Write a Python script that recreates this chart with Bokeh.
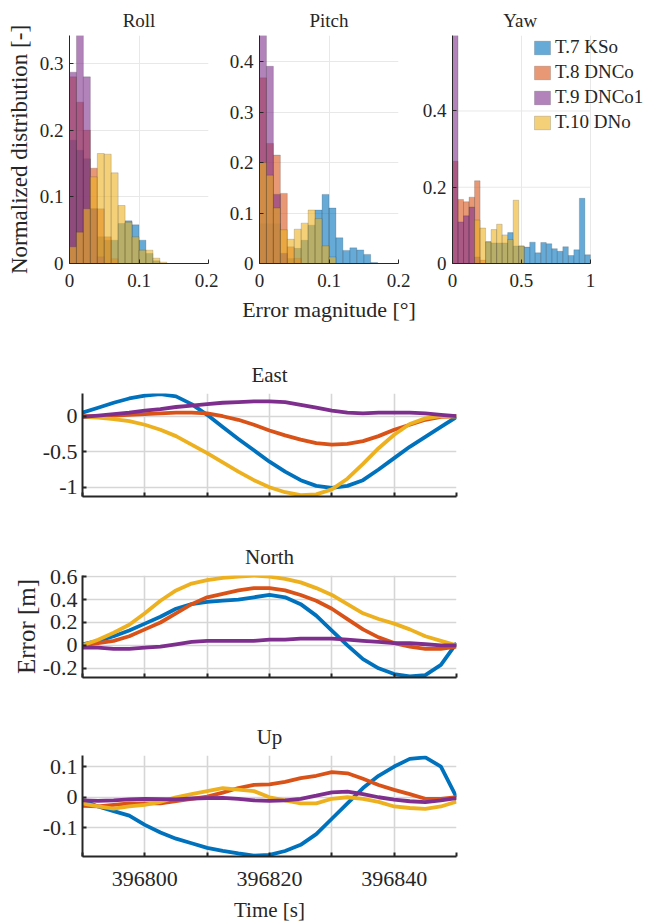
from bokeh.plotting import figure
from bokeh.layouts import column, row
from bokeh.models import FixedTicker, Legend, LegendItem, Range1d, CustomJSTickFormatter
from bokeh.embed import file_html
from bokeh.resources import INLINE

FONT = "Liberation Serif"
TXT = "#262626"

series_names = ["T.7 KSo", "T.8 DNCo", "T.9 DNCo1", "T.10 DNo"]
series_colors = ["#0072BD", "#D95319", "#7E2F8E", "#EDB120"]

# ---------------- histogram data (normalized distribution) ----------------
# Roll, bin width 0.01 deg, first bin starts at 0
roll_bin_width = 0.01
roll_kso = [0.185, 0.17, 0.157, 0.082, 0.04, 0.035, 0.035, 0.06, 0.064, 0.058, 0.035, 0.015, 0.004]
roll_dnco = [0.28, 0.242, 0.2, 0.143, 0.082, 0.04, 0.007]
roll_dnco1 = [0.287, 0.342, 0.28, 0.082, 0.01]
roll_dno = [0.025, 0.047, 0.082, 0.13, 0.165, 0.164, 0.136, 0.087, 0.062, 0.04, 0.02, 0.02, 0.008, 0.002]
roll_start = [0.0, 0.0, 0.0, 0.0]

# Pitch, bin width 0.01 deg
pitch_bin_width = 0.01
pitch_kso = [0.079, 0.079, 0.079, 0.02, 0.01, 0.03, 0.046, 0.076, 0.106, 0.137, 0.11, 0.051, 0.026, 0.031, 0.027, 0.018, 0.002]
pitch_dnco = [0.368, 0.238, 0.215, 0.139, 0.033, 0.01]
pitch_dnco1 = [0.452, 0.391, 0.137, 0.02]
pitch_dno = [0.2, 0.175, 0.11, 0.067, 0.048, 0.068, 0.08, 0.106, 0.089, 0.035, 0.013]
pitch_start = [0.0, 0.0, 0.0, 0.0]

# Yaw, bin width 0.04 deg
yaw_bin_width = 0.04
yaw_kso = [0.057, 0.054, 0.054, 0.054, 0.081, 0.046, 0.046, 0.043, 0.056, 0.028, 0.055, 0.052, 0.039, 0.032, 0.044, 0.021, 0.036, 0.171, 0.023]
yaw_dnco = [0.268, 0.168, 0.162, 0.174, 0.217, 0.009]
yaw_dnco1 = [0.598, 0.109, 0.125, 0.148, 0.017]
yaw_dno = [0.114, 0.093, 0.057, 0.089, 0.103, 0.075, 0.063, 0.166, 0.046]
yaw_start = [0.24, 0.0, 0.0, 0.16]

roll_ticks_x = [0, 0.1, 0.2]
roll_ticks_y = [0, 0.1, 0.2, 0.3]
pitch_ticks_x = [0, 0.1, 0.2]
pitch_ticks_y = [0, 0.1, 0.2, 0.3, 0.4]
yaw_ticks_x = [0, 0.5, 1]
yaw_ticks_y = [0, 0.2, 0.4]

# ---------------- position error data [m] ----------------
time_s = [396790, 396792.5, 396795, 396797.5, 396800, 396802.5, 396805, 396807.5, 396810,
          396812.5, 396815, 396817.5, 396820, 396822.5, 396825, 396827.5, 396830, 396832.5,
          396835, 396837.5, 396840, 396842.5, 396845, 396847.5, 396850]

east_kso = [0.05, 0.12, 0.19, 0.25, 0.29, 0.31, 0.28, 0.17, 0.02, -0.15, -0.32, -0.48, -0.64,
            -0.78, -0.9, -0.98, -1.01, -0.98, -0.9, -0.75, -0.59, -0.43, -0.29, -0.15, -0.01]
east_dnco = [0.0, 0.0, 0.01, 0.02, 0.03, 0.04, 0.05, 0.05, 0.04, 0.0, -0.05, -0.12, -0.2,
             -0.27, -0.33, -0.38, -0.4, -0.39, -0.35, -0.28, -0.19, -0.12, -0.05, -0.01, 0.0]
east_dno = [-0.01, -0.02, -0.04, -0.07, -0.12, -0.19, -0.28, -0.4, -0.52, -0.65, -0.78, -0.9, -1.0,
            -1.07, -1.11, -1.1, -1.03, -0.88, -0.67, -0.45, -0.26, -0.11, -0.03, 0.0, 0.0]
east_dnco1 = [-0.01, 0.01, 0.03, 0.05, 0.08, 0.1, 0.13, 0.15, 0.17, 0.19, 0.2, 0.21, 0.21,
              0.2, 0.16, 0.12, 0.08, 0.05, 0.04, 0.05, 0.05, 0.05, 0.04, 0.02, 0.0]

north_kso = [0.01, 0.04, 0.08, 0.13, 0.19, 0.25, 0.32, 0.36, 0.38, 0.39, 0.40, 0.42, 0.44,
             0.42, 0.36, 0.26, 0.13, 0.0, -0.12, -0.2, -0.25, -0.27, -0.26, -0.17, 0.02]
north_dnco = [0.0, 0.02, 0.04, 0.08, 0.14, 0.2, 0.28, 0.36, 0.42, 0.45, 0.48, 0.5, 0.5,
              0.48, 0.44, 0.39, 0.32, 0.23, 0.14, 0.07, 0.02, -0.01, -0.03, -0.03, -0.01]
north_dno = [0.0, 0.05, 0.11, 0.18, 0.28, 0.39, 0.48, 0.54, 0.57, 0.59, 0.6, 0.61, 0.6,
             0.58, 0.55, 0.5, 0.44, 0.36, 0.28, 0.23, 0.19, 0.14, 0.08, 0.04, 0.0]
north_dnco1 = [-0.02, -0.02, -0.03, -0.03, -0.02, -0.01, 0.01, 0.03, 0.04, 0.04, 0.04, 0.04, 0.05,
               0.05, 0.06, 0.06, 0.06, 0.05, 0.04, 0.03, 0.02, 0.02, 0.01, 0.0, 0.0]

up_kso = [-0.01, -0.03, -0.045, -0.06, -0.09, -0.115, -0.135, -0.15, -0.165, -0.175, -0.183, -0.19, -0.188,
          -0.175, -0.155, -0.12, -0.07, -0.02, 0.03, 0.07, 0.1, 0.125, 0.13, 0.1, 0.0]
up_dnco = [-0.028, -0.03, -0.025, -0.02, -0.02, -0.02, -0.013, -0.005, 0.002, 0.015, 0.03, 0.04, 0.042,
           0.05, 0.062, 0.07, 0.082, 0.078, 0.06, 0.04, 0.024, 0.01, -0.005, -0.005, 0.0]
up_dno = [-0.02, -0.03, -0.037, -0.03, -0.025, -0.015, 0.0, 0.01, 0.02, 0.03, 0.025, 0.02, 0.0,
          -0.01, -0.02, -0.02, -0.005, 0.0, -0.005, -0.015, -0.03, -0.035, -0.038, -0.03, -0.014]
up_dnco1 = [-0.01, -0.012, -0.01, -0.007, -0.005, -0.006, -0.007, -0.004, -0.003, -0.002, -0.005, -0.01, -0.012,
            -0.01, -0.005, 0.005, 0.016, 0.018, 0.01, 0.0, -0.008, -0.013, -0.016, -0.01, -0.003]

time_ticks = [396790, 396800, 396810, 396820, 396830, 396840, 396850]
east_ticks = [-1, -0.5, 0]
north_ticks = [-0.2, 0, 0.2, 0.4, 0.6]
up_ticks = [-0.1, 0, 0.1]

num_fmt = "return (Math.round(tick*1000)/1000).toString();"
HIST_GRID = "#e8e8e8"


def style(p, tick_size, lw, grid_color, grid_w):
    for ax in (p.xaxis[0], p.yaxis[0]):
        ax.axis_line_color = TXT
        ax.axis_line_width = lw
        ax.major_tick_in = 4
        ax.major_tick_out = 0
        ax.major_tick_line_color = TXT
        ax.major_tick_line_width = lw
        ax.minor_tick_line_color = None
        ax.major_label_text_font = FONT
        ax.major_label_text_font_size = tick_size
        ax.major_label_text_color = TXT
        ax.axis_label_text_font = FONT
        ax.axis_label_text_font_style = "normal"
        ax.axis_label_text_color = TXT
    p.outline_line_color = None
    p.grid.grid_line_color = grid_color
    p.grid.grid_line_width = grid_w
    p.title.text_font = FONT
    p.title.text_font_style = "normal"
    p.title.text_color = TXT
    p.title.align = "center"


def hist_fig(title, data, starts, bw, xr, yr, xt, yt, width, left, right, ylabel=None, xlabel=None,
             x_end=None):
    p = figure(width=width, height=335, output_backend="svg", toolbar_location=None,
               x_range=Range1d(xr[0], x_end if x_end else xr[1]), y_range=Range1d(*yr), title=title,
               min_border_left=left, min_border_right=right, min_border_top=35, min_border_bottom=72)
    rends = []
    for vals, st, col in zip(data, starts, series_colors):
        lefts = [st + i * bw for i in range(len(vals))]
        rights = [l + bw for l in lefts]
        r = p.quad(left=lefts, right=rights, bottom=0, top=vals, fill_color=col, fill_alpha=0.6,
                   line_color="#262626", line_alpha=0.3, line_width=0.6)
        rends.append(r)
    style(p, "19px", 1, HIST_GRID, 1)
    p.xaxis.ticker = FixedTicker(ticks=xt)
    p.yaxis.ticker = FixedTicker(ticks=yt)
    p.xaxis.formatter = CustomJSTickFormatter(code=num_fmt)
    p.yaxis.formatter = CustomJSTickFormatter(code=num_fmt)
    p.xaxis.major_label_standoff = 10
    p.yaxis.major_label_standoff = 6
    p.title.text_font_size = "19px"
    p.title.standoff = 9
    if x_end:
        # axis and horizontal grid only across the data range
        p.xaxis.bounds = (xr[0], xr[1])
        p.ygrid.visible = False
        p.segment(x0=[xr[0]] * len(yt), x1=[xr[1]] * len(yt), y0=yt, y1=yt,
                  line_color=HIST_GRID, line_width=1, level="underlay")
    if ylabel:
        p.yaxis.axis_label = ylabel
        p.yaxis.axis_label_text_font_size = "23px"
        p.yaxis.axis_label_standoff = 5
    if xlabel:
        p.xaxis.axis_label = xlabel
        p.xaxis.axis_label_text_font_size = "22px"
        p.xaxis.axis_label_standoff = 7
    return p, rends


roll, _ = hist_fig("Roll", [roll_kso, roll_dnco, roll_dnco1, roll_dno], roll_start, roll_bin_width,
                   (0, 0.2), (0, 0.342), roll_ticks_x, roll_ticks_y, 218, 69, 10,
                   ylabel="Normalized distribution [-]")
pitch, _ = hist_fig("Pitch", [pitch_kso, pitch_dnco, pitch_dnco1, pitch_dno], pitch_start, pitch_bin_width,
                    (0, 0.2), (0, 0.452), pitch_ticks_x, pitch_ticks_y, 201, 41, 21,
                    xlabel="Error magnitude [°]")
# yaw frame is wider than its data range so that the legend can sit to the right of x = 1;
# trailing no-break spaces keep the centred title over the 0..1 part of the frame
yaw, yaw_r = hist_fig("Yaw" + "\u00a0" * 13, [yaw_kso, yaw_dnco, yaw_dnco1, yaw_dno], yaw_start, yaw_bin_width,
                      (0, 1), (0, 0.598), yaw_ticks_x, yaw_ticks_y, 230, 30, 0, x_end=200 / 140)

legend = Legend(items=[LegendItem(label=n, renderers=[r]) for n, r in zip(series_names, yaw_r)],
                location=(80, 130), padding=0, margin=0, spacing=3, glyph_width=20, glyph_height=17,
                label_standoff=3, label_text_font=FONT, label_text_font_size="19px",
                label_text_color=TXT, border_line_alpha=0, background_fill_alpha=0)
yaw.add_layout(legend, "center")


def line_fig(title, series, yr, yt, height, top, bottom, ylabel=None, show_x=False):
    p = figure(width=649, height=height, output_backend="svg", toolbar_location=None,
               x_range=Range1d(396790, 396850), y_range=Range1d(*yr), title=title,
               min_border_left=82, min_border_right=193, min_border_top=top, min_border_bottom=bottom)
    order = [0, 1, 3, 2]  # blue, orange, yellow, purple
    for i in order:
        p.line(time_s, series[i], line_color=series_colors[i], line_width=3.8)
    style(p, "22px", 2, "#d6d6d6", 1.6)
    p.xaxis.ticker = FixedTicker(ticks=time_ticks)
    p.yaxis.ticker = FixedTicker(ticks=yt)
    p.yaxis.formatter = CustomJSTickFormatter(code=num_fmt)
    p.yaxis.major_label_standoff = 5
    p.title.text_font_size = "21px"
    p.title.standoff = 14
    if show_x:
        p.xaxis.formatter = CustomJSTickFormatter(
            code="var t = Math.round(tick); return (t % 20 == 0) ? t.toString() : '';")
        p.xaxis.major_label_standoff = 15
        p.xaxis.axis_label = "Time [s]"
        p.xaxis.axis_label_text_font_size = "21px"
        p.xaxis.axis_label_standoff = 9
    else:
        p.xaxis.formatter = CustomJSTickFormatter(code="return '';")
        p.xaxis.major_label_text_font_size = "2px"
        p.xaxis.major_label_standoff = 0
    if ylabel:
        p.yaxis.axis_label = ylabel
        p.yaxis.axis_label_text_font_size = "25px"
        p.yaxis.axis_label_standoff = 0
    return p


east = line_fig("East", [east_kso, east_dnco, east_dnco1, east_dno], (-1.13, 0.32), east_ticks, 175, 58, 14)
north = line_fig("North", [north_kso, north_dnco, north_dnco1, north_dno], (-0.28, 0.61), north_ticks, 180, 65, 13,
                 ylabel="Error [m]")
up = line_fig("Up", [up_kso, up_dnco, up_dnco1, up_dno], (-0.193, 0.136), up_ticks, 234, 65, 67, show_x=True)

layout = column(row(roll, pitch, yaw), east, north, up)
open("out.html", "w").write(file_html(layout, INLINE))
